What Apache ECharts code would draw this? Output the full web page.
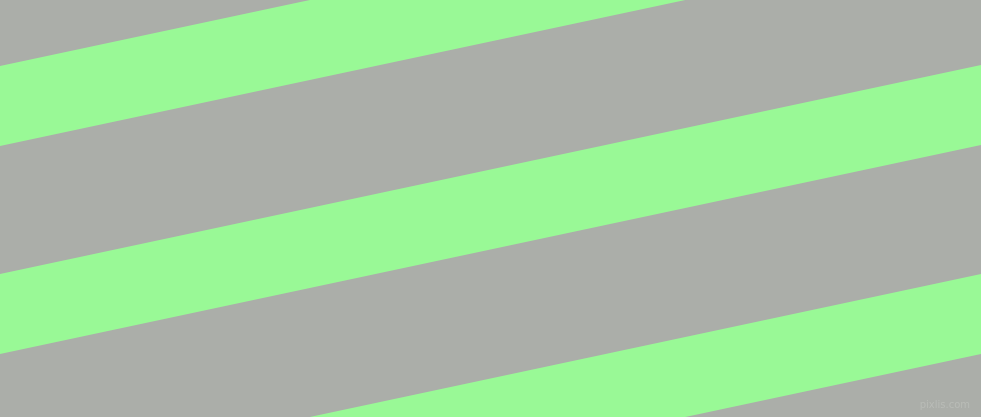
<!DOCTYPE html>
<html>
<head>
<meta charset="utf-8">
<script src="https://cdn.jsdelivr.net/npm/echarts@6/dist/echarts.min.js"></script>
<style>
  html, body { margin: 0; padding: 0; background: #abaea9; }
  #chart { width: 981px; height: 417px; }
</style>
</head>
<body>
<div id="chart"></div>
<script>
'use strict';

// stripe edges (y at the left and right borders)
const xEdges = [0, 981];
const leftTop = [66, 274, 483];
const leftBottom = [146, 354, 563];
const rightTop = [-143, 65, 274];
const rightBottom = [-63, 145, 354];

const stripes = leftTop.map((lt, i) =>
  [xEdges[0], xEdges[1], lt, leftBottom[i], rightTop[i], rightBottom[i]]);

const chart = echarts.init(document.getElementById('chart'), null, { renderer: 'canvas' });

chart.setOption({
  backgroundColor: '#abaea9',
  animation: false,
  title: {
    text: 'pixlis.com',
    right: 6,
    bottom: 2,
    textStyle: { color: '#b9bcb7', fontSize: 10, fontWeight: 'normal', fontFamily: 'DejaVu Sans' }
  },
  grid: { left: 0, right: 0, top: 0, bottom: 0 },
  xAxis: { type: 'value', min: 0, max: 981, show: false },
  yAxis: { type: 'value', min: 0, max: 417, inverse: true, show: false },
  series: [{
    type: 'custom',
    clip: true,
    data: stripes,
    renderItem: function (params, api) {
      const x0 = api.value(0), x1 = api.value(1);
      const pts = [
        api.coord([x0, api.value(2)]),
        api.coord([x1, api.value(4)]),
        api.coord([x1, api.value(5)]),
        api.coord([x0, api.value(3)])
      ];
      return {
        type: 'polygon',
        shape: { points: pts },
        style: { fill: '#99f996' }
      };
    }
  }]
});
</script>
</body>
</html>
